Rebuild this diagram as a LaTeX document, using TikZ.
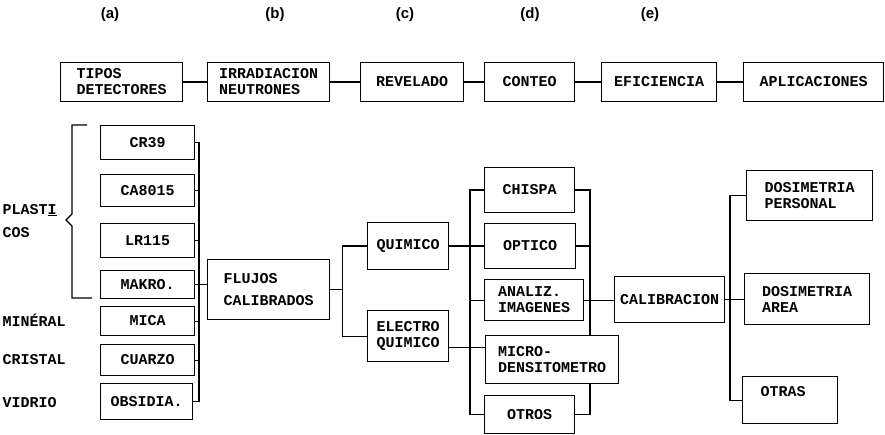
\documentclass[tikz,border=0pt]{standalone}
\usepackage{fontspec}
\newfontfamily\tw{Liberation Mono}
\newfontfamily\lbl{Liberation Sans}
\begin{document}
\begin{tikzpicture}[x=1pt,y=-1pt,line width=1.1pt,
  box/.style={draw, anchor=north west, inner sep=0pt, align=left, font=\tw\bfseries\fontsize{15}{16}\selectfont},
  txt/.style={font=\tw\bfseries\fontsize{15}{16}\selectfont, inner sep=0pt},
  head/.style={font=\lbl\bfseries\fontsize{15}{16}\selectfont, inner sep=0pt}]
\useasboundingbox (0,0) rectangle (885,435);
% headings
\node[head] (ha) at (110,15) {(a)};
\node[head] (hb) at (275,15) {(b)};
\node[head] (hc) at (405,15) {(c)};
\node[head] (hd) at (530,15) {(d)};
\node[head] (he) at (650,15) {(e)};
% top row
\node[box, minimum width=122pt, minimum height=39pt] (tipos) at (60,62) {TIPOS\\DETECTORES};
\node[box, minimum width=122pt, minimum height=39pt] (irrad) at (207,62) {IRRADIACION\\NEUTRONES};
\node[box, minimum width=103pt, minimum height=39pt] (revel) at (360,62) {REVELADO};
\node[box, minimum width=90pt, minimum height=39pt] (conteo) at (484,62) {CONTEO};
\node[box, minimum width=115pt, minimum height=39pt] (efic) at (601,62) {EFICIENCIA};
\node[box, minimum width=140pt, minimum height=39pt] (aplic) at (743,62) {APLICACIONES};
\draw (tipos) -- (irrad);
\draw (irrad) -- (revel);
\draw (revel) -- (conteo);
\draw (conteo) -- (efic);
\draw (efic) -- (aplic);
% detectors
\node[box, minimum width=94pt, minimum height=34pt] (cr) at (100,125) {CR39};
\node[box, minimum width=94pt, minimum height=32pt] (ca) at (100,174) {CA8015};
\node[box, minimum width=94pt, minimum height=34pt] (lr) at (100,223) {LR115};
\node[box, minimum width=94pt, minimum height=28pt] (mak) at (100,270) {MAKRO.};
\node[box, minimum width=94pt, minimum height=29pt] (mica) at (100,306) {MICA};
\node[box, minimum width=94pt, minimum height=31pt] (cuar) at (100,344) {CUARZO};
\node[box, minimum width=92pt, minimum height=36pt] (obs) at (100,383) {OBSIDIA.};
\coordinate (lb) at (199,0);
\draw (cr.east) -- (cr.east -| lb) -- (obs.east -| lb) -- (obs.east);
\foreach \n in {ca,lr,mak,mica,cuar} \draw (\n.east) -- (\n.east -| lb);
% left labels
\node[txt, anchor=west] (plas) at (2,210) {PLAST\underline{I}};
\node[txt, anchor=west] (cos) at (2,233) {COS};
\node[txt, anchor=west] (min) at (2,320) {MINÉRAL};
\node[txt, anchor=west] (cri) at (2,360) {CRISTAL};
\node[txt, anchor=west] (vid) at (2,403) {VIDRIO};
\draw (87,125) -- (72,125) -- (72,214) -- (66,220) -- (72,226) -- (72,298) -- (92,298);
% flujos
\node[box, minimum width=122pt, minimum height=60pt] (flu) at (207,259) {FLUJOS\\[6pt]CALIBRADOS};
\draw (mak.east -| lb) -- (flu.west |- mak.east);
% revelado
\node[box, minimum width=81pt, minimum height=47pt] (quim) at (367,222) {QUIMICO};
\node[box, minimum width=81pt, minimum height=51pt] (elec) at (367,310) {ELECTRO\\QUIMICO};
\draw (flu.east) -- ++(12,0) coordinate (mj);
\draw (quim.west) -- (quim.west -| mj) -- (elec.west -| mj) -- (elec.west);
% conteo
\node[box, minimum width=90pt, minimum height=45pt] (chis) at (484,167) {CHISPA};
\node[box, minimum width=91pt, minimum height=45pt] (opt) at (484,223) {OPTICO};
\node[box, minimum width=99pt, minimum height=41pt] (ana) at (484,279) {ANALIZ.\\IMAGENES};
\node[box, minimum width=133pt, minimum height=48pt] (mic) at (485,335) {MICRO-\\DENSITOMETRO};
\node[box, minimum width=90pt, minimum height=38pt] (otr) at (484,395) {OTROS};
\draw (quim.east) -- (opt.west);
\coordinate (e1) at ([yshift=-11pt]elec.east);
\draw (e1) -- (e1 -| mic.west);
\coordinate (cl) at (470,0);
\coordinate (cr2) at (590,0);
\draw (chis.west) -- (chis.west -| cl) -- (otr.west -| cl) -- (otr.west);
\draw (ana.west) -- (ana.west -| cl);
\draw (chis.east) -- (chis.east -| cr2) -- (mic.north -| cr2);
\draw (mic.south -| cr2) -- (otr.east -| cr2) -- (otr.east);
\draw (opt.east) -- (opt.east -| cr2);
% calibracion
\node[box, minimum width=110pt, minimum height=46pt] (cal) at (614,276) {CALIBRACION};
\draw (ana.east) -- (cal.west |- ana.east);
% aplicaciones
\node[box, minimum width=126pt, minimum height=50pt] (pers) at (746,170) {DOSIMETRIA\\PERSONAL};
\node[box, minimum width=125pt, minimum height=51pt] (area) at (744,273) {DOSIMETRIA\\AREA};
\node[box, minimum width=95pt, minimum height=47pt] (otras) at (742,376) {};
\node[txt, anchor=west] (otrast) at ([xshift=18pt,yshift=-16pt]otras.north west) {OTRAS};
\coordinate (ab) at (730,0);
\draw (cal.east) -- (area.west |- cal.east);
\draw (pers.west) -- (pers.west -| ab) -- (otras.west -| ab) -- (otras.west);
\end{tikzpicture}
\end{document}
